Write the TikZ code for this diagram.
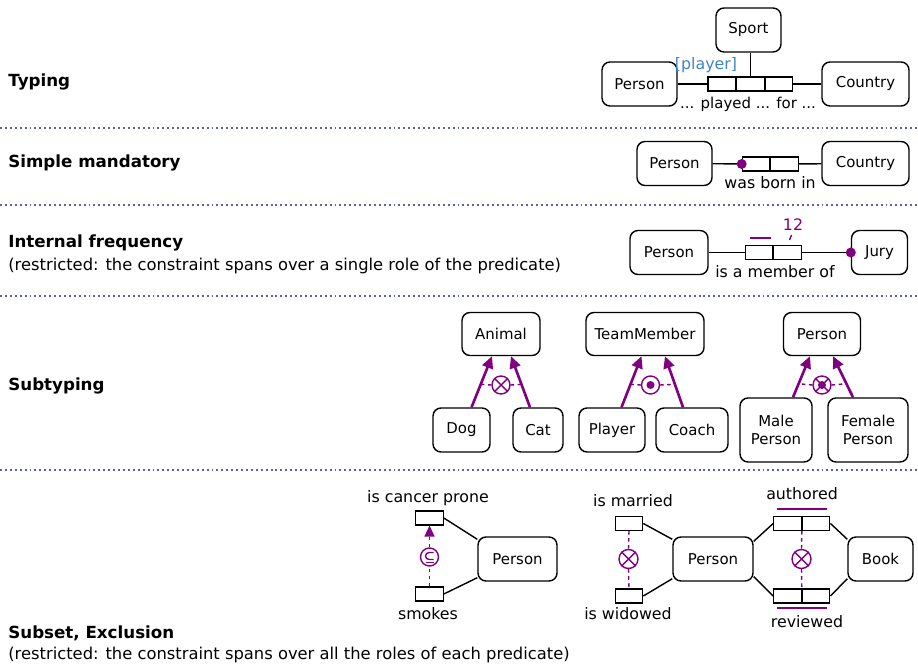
\documentclass[tikz,border=0pt]{standalone}
\usepackage{fontspec}
\setmainfont{DejaVu Sans}
\usetikzlibrary{arrows.meta}

\definecolor{orm}{RGB}{128,0,128}
\definecolor{rolename}{RGB}{61,133,198}
\definecolor{sepline}{RGB}{95,95,170}

\newcommand{\lblfont}{\fontsize{8.5}{10}\selectfont}
\newcommand{\rdfont}{\fontsize{9}{11}\selectfont}
\newcommand{\hdfont}{\fontsize{9.5}{11}\selectfont}
\newcommand{\ntfont}{\fontsize{9.3}{11}\selectfont}

\tikzset{
  entity/.style={draw, rounded corners=0.16cm, line width=0.8pt, minimum height=0.88cm,
    inner sep=2pt, align=center, font=\lblfont},
  role/.style={draw, line width=0.65pt, minimum width=0.55cm, minimum height=0.28cm, inner sep=0pt},
  link/.style={line width=0.8pt},
  reading/.style={font=\rdfont, inner sep=1pt},
  subarrow/.style={orm, line width=1.5pt, -{Triangle[length=0.24cm, width=0.22cm]}},
  constr/.style={draw=orm, circle, line width=0.8pt, minimum size=0.36cm, inner sep=0pt},
  cdash/.style={orm, line width=0.8pt, dash pattern=on 2pt off 2pt},
  mand/.style={circle, fill=orm, inner sep=0pt, minimum size=0.2cm},
  sep/.style={sepline, line width=1.1pt, dash pattern=on 1.1pt off 1.7pt},
  heading/.style={anchor=west, font=\bfseries\hdfont, inner sep=0pt},
  note/.style={anchor=west, font=\ntfont, inner sep=0pt},
}

\begin{document}
\begin{tikzpicture}[x=0.02cm, y=-0.02cm]
\useasboundingbox (0,0) rectangle (918,668);

% Section separators
\foreach \sy in {128,205,296,470}
  \draw[sep] (0,\sy) -- (918,\sy);

% Typing
\node[heading] (hty) at (8,82) {Typing};
\node[entity, minimum width=1.3cm] (sport) at (748.5,30) {Sport};
\node[entity, minimum width=1.5cm] (typer) at (639.5,84) {Person};
\node[entity, minimum width=1.74cm] (tycou) at (865.5,84) {Country};
\node[role] (pl1) at (721.7,84) {};
\node[role, anchor=west] (pl2) at (pl1.east) {};
\node[role, anchor=west] (pl3) at (pl2.east) {};
\draw[link] (typer) -- (pl1);
\draw[link] (pl3) -- (tycou);
\draw[link] (pl2.north) -- (pl2.north |- sport.south);
\node[reading, text=rolename] (plname) at (706,65) {[player]};
\node[reading, font=\lblfont] (plread) at (748,104) {... played ... for ...};

% Simple mandatory
\node[heading] (hsm) at (8,163) {Simple mandatory};
\node[entity, minimum width=1.5cm] (smper) at (674.5,163.5) {Person};
\node[entity, minimum width=1.74cm] (smcou) at (865.5,163.5) {Country};
\node[role] (wb1) at (756,164) {};
\node[role, anchor=west] (wb2) at (wb1.east) {};
\draw[link] (smper) -- (wb1);
\draw[link] (wb2) -- (smcou);
\node[mand] (wbdot) at (wb1.west) {};
\node[reading] (wbread) at (770,183) {was born in};

% Internal frequency
\node[heading] (hif) at (8,243) {Internal frequency};
\node[note] (hifnote) at (8,266) {(restricted: the constraint spans over a single role of the predicate)};
\node[entity, minimum width=1.56cm] (ifper) at (669,252.5) {Person};
\node[entity, minimum width=1.12cm] (jury) at (879.5,252.5) {Jury};
\node[role] (im1) at (759,252.5) {};
\node[role, anchor=west] (im2) at (im1.east) {};
\draw[link] (ifper) -- (im1);
\draw[link] (im2) -- (jury);
\node[mand] (jurydot) at (jury.west) {};
\draw[orm, line width=1pt] (750,238) -- (771,238);
\node[reading, text=orm] (freq) at (793,225) {12};
\draw[orm, line width=0.8pt] (791.5,235) -- (789.5,240);
\node[reading] (imread) at (775,272) {is a member of};

% Subtyping
\node[heading] (hst) at (8,386) {Subtyping};
\node[entity, minimum width=1.56cm, minimum height=0.86cm] (animal) at (501,334) {Animal};
\node[entity, minimum width=1.14cm] (dog) at (461.5,430) {Dog};
\node[entity, minimum width=1.0cm] (cat) at (538,430) {Cat};
\node[entity, minimum width=2.36cm, minimum height=0.86cm] (team) at (645,334) {TeamMember};
\node[entity, minimum width=1.32cm] (player) at (612,430) {Player};
\node[entity, minimum width=1.44cm] (coach) at (692,430) {Coach};
\node[entity, minimum width=1.54cm, minimum height=0.86cm] (sper) at (822,334) {Person};
\node[entity, minimum width=1.44cm, minimum height=1.28cm] (male) at (776,430) {Male\\Person};
\node[entity, minimum width=1.6cm, minimum height=1.28cm] (female) at (868,430) {Female\\Person};

\draw[subarrow] ([xshift=0.2cm]dog.north) -- coordinate[pos=0.45] (dga) ([xshift=-0.18cm]animal.south);
\draw[subarrow] ([xshift=-0.16cm]cat.north) -- coordinate[pos=0.45] (cta) ([xshift=0.2cm]animal.south);
\draw[subarrow] ([xshift=0.19cm]player.north) -- coordinate[pos=0.45] (pla) ([xshift=-0.07cm]team.south);
\draw[subarrow] ([xshift=-0.18cm]coach.north) -- coordinate[pos=0.45] (coa) ([xshift=0.4cm]team.south);
\draw[subarrow] ([xshift=0.34cm]male.north) -- coordinate[pos=0.33] (mla) ([xshift=-0.24cm]sper.south);
\draw[subarrow] ([xshift=-0.3cm]female.north) -- coordinate[pos=0.33] (fma) ([xshift=0.22cm]sper.south);

% exclusion
\node[constr] (exan) at (501,385) {};
\draw[orm, line width=0.8pt] (exan.45) -- (exan.225) (exan.135) -- (exan.315);
\draw[cdash] (exan.west) -- (dga);
\draw[cdash] (exan.east) -- (cta);
% inclusive or
\node[constr] (orteam) at (650.5,385) {};
\fill[orm] (orteam.center) circle (0.08cm);
\draw[cdash] (orteam.west) -- (pla);
\draw[cdash] (orteam.east) -- (coa);
% exclusive or
\node[constr] (xoper) at (822,385) {};
\draw[orm, line width=0.8pt] (xoper.45) -- (xoper.225) (xoper.135) -- (xoper.315);
\fill[orm] (xoper.center) circle (0.08cm);
\draw[cdash] (xoper.west) -- (mla);
\draw[cdash] (xoper.east) -- (fma);

% Subset, Exclusion
\node[heading] (hse) at (8,633) {Subset, Exclusion};
\node[note] (hsenote) at (8,655) {(restricted: the constraint spans over all the roles of each predicate)};

% subset
\node[entity, minimum width=1.58cm] (ssper) at (517.5,559) {Person};
\node[role] (cp) at (429.5,518) {};
\node[role] (smk) at (429.5,594) {};
\node[reading] (cpread) at (428,498) {is cancer prone};
\node[reading] (smkread) at (428,614) {smokes};
\draw[link] (cp.east) -- ([yshift=-0.06cm]ssper.north west);
\draw[link] (smk.east) -- ([yshift=0.08cm]ssper.south west);
\node[constr, minimum size=0.36cm] (subs) at (429.5,557) {};
% subset sign drawn by hand
\draw[orm, line width=0.8pt] ([shift={(4,-4.5)}]subs.center) -- ++(-4.5,0)
  arc[start angle=90, end angle=270, radius=0.07cm] -- ++(4.5,0);
\draw[orm, line width=0.8pt] ([shift={(-4,5.5)}]subs.center) -- ++(8,0);
\draw[cdash] (smk.north) -- (subs.south);
\draw[cdash, -{Triangle[length=0.22cm, width=0.2cm]}] (subs.north) -- (cp.south);

% exclusion
\node[entity, minimum width=1.6cm] (xper) at (713,559) {Person};
\node[entity, minimum width=1.3cm] (book) at (880.5,559) {Book};
\node[role] (mar) at (629,523.5) {};
\node[role] (wid) at (629,596) {};
\node[reading] (marread) at (633,501) {is married};
\node[reading] (widread) at (628,614) {is widowed};
\draw[link] (mar.east) -- ([yshift=-0.06cm]xper.north west);
\draw[link] (wid.east) -- ([yshift=0.06cm]xper.south west);
\node[constr, minimum size=0.38cm] (exmw) at (628.5,559) {};
\draw[orm, line width=0.8pt] (exmw.45) -- (exmw.225) (exmw.135) -- (exmw.315);
\draw[cdash] (mar.south) -- (exmw.north);
\draw[cdash] (exmw.south) -- (wid.north);

\node[role] (au1) at (787.5,523.5) {};
\node[role, anchor=west] (au2) at (au1.east) {};
\node[role] (rv1) at (787.5,596) {};
\node[role, anchor=west] (rv2) at (rv1.east) {};
\node[reading] (auread) at (802,494) {authored};
\node[reading] (rvread) at (807,622) {reviewed};
\draw[orm, line width=1pt] (777,509) -- (827,509);
\draw[orm, line width=1pt] (777,608) -- (827,608);
\draw[link] ([yshift=-0.1cm]xper.north east) -- (au1.west);
\draw[link] ([yshift=0.1cm]xper.south east) -- (rv1.west);
\draw[link] (au2.east) -- ([yshift=-0.06cm]book.north west);
\draw[link] (rv2.east) -- ([yshift=0.06cm]book.south west);
\node[constr, minimum size=0.38cm] (exar) at (801.5,559) {};
\draw[orm, line width=0.8pt] (exar.45) -- (exar.225) (exar.135) -- (exar.315);
\draw[cdash] (au1.south east) -- (exar.north);
\draw[cdash] (exar.south) -- (rv1.north east);

\end{tikzpicture}
\end{document}
